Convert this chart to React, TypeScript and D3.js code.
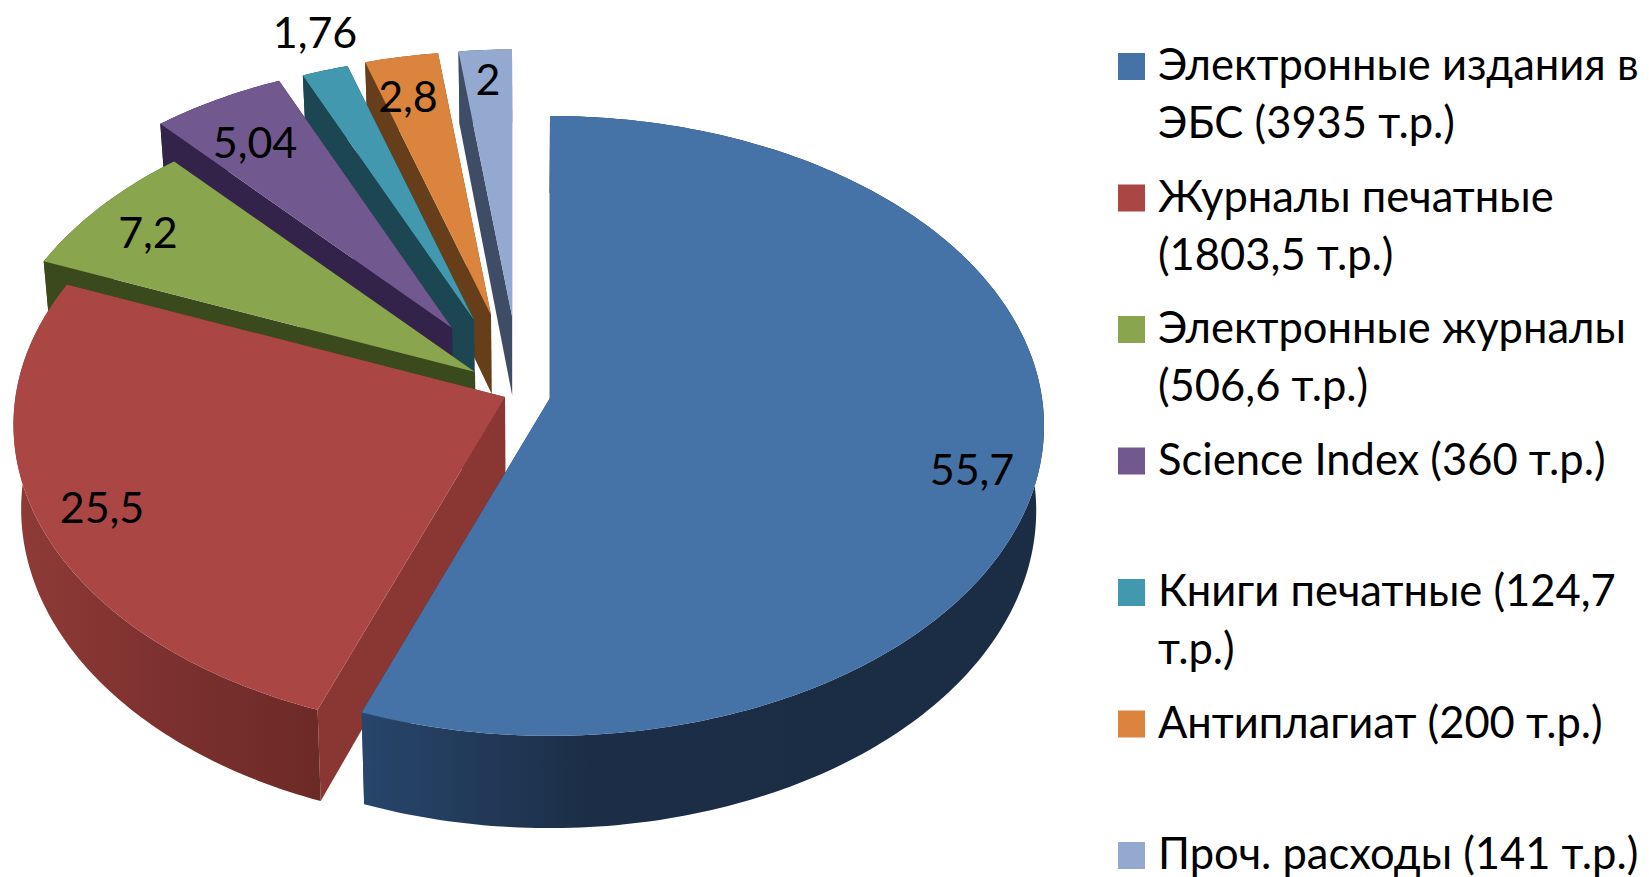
import * as d3 from "d3";

const shares = [55.7, 25.5, 7.2, 5.04, 1.76, 2.8, 2];
const shareLabels = ["55,7", "25,5", "7,2", "5,04", "1,76", "2,8", "2"];
const legendLines = [
  ["Электронные издания в", "ЭБС (3935 т.р.)"],
  ["Журналы печатные", "(1803,5 т.р.)"],
  ["Электронные журналы", "(506,6 т.р.)"],
  ["Science Index (360 т.р.)"],
  ["Книги печатные (124,7", "т.р.)"],
  ["Антиплагиат (200 т.р.)"],
  ["Проч. расходы (141 т.р.)"],
];
const topColors = ["#4572a7", "#aa4643", "#89a54e", "#71588f", "#4198af", "#db843d", "#93a9cf"];
const cutColors = ["#26446a", "#8a3733", "#3a4a1c", "#33234a", "#1b4652", "#663f1a", "#3f4c66"];
const rimColors = [
  ["#27466b", "#1c2e47", "#1b2d45", "#1b2d45"],
  ["#8f3b37", "#7c312e", "#6c2a27"],
  ["#3a4a1c", "#3a4a1c"],
  ["#33234a", "#33234a"],
  ["#1b4652", "#1b4652"],
  ["#663f1a", "#663f1a"],
  ["#3f4c66", "#3f4c66"],
];

// layout of the exploded slices, in screen pixels; slices pushed back shrink with perspective
const apexes = [
  [550, 398],
  [505, 397],
  [475, 372],
  [452, 328],
  [474, 320],
  [491, 315],
  [512, 316],
];
const sliceScales = [1, 0.995, 0.98, 0.95, 0.94, 0.935, 0.945];
const labelSpots = [
  [972, 468],
  [102, 506],
  [148, 231],
  [255, 141],
  [315, 31],
  [408, 95],
  [488, 78],
];
const drawOrder = [6, 5, 4, 3, 2, 1, 0];

const width = 1649;
const height = 877;
const radiusX = 492;
const radiusY = 307.4;
const persp = 0.09;
const depth = 84;
const vanishX = 525;
const shrink = 0.985;
const font = "Lato, 'Open Sans', sans-serif";

const pie = d3.pie<number>().sort(null).value((d) => d).startAngle(0).endAngle(2 * Math.PI);
const arcs = pie(shares);
const line = d3.line();

const topPoint = (i: number, angle: number, r: number): [number, number] => {
  const u = r * Math.sin(angle);
  const v = r * Math.cos(angle);
  const w = 1 + persp * v;
  const s = sliceScales[i];
  return [apexes[i][0] + (s * radiusX * u) / w, apexes[i][1] - (s * radiusY * v) / w];
};

const bottomPoint = (i: number, angle: number, r: number): [number, number] => {
  const [x, y] = topPoint(i, angle, r);
  const w = 1 + persp * r * Math.cos(angle);
  return [vanishX + (x - vanishX) * shrink, y + (sliceScales[i] * depth) / w];
};

const arcAngles = (a: d3.PieArcDatum<number>) => {
  const n = Math.max(8, Math.ceil((a.endAngle - a.startAngle) * 60));
  return d3.range(n + 1).map((j) => a.startAngle + ((a.endAngle - a.startAngle) * j) / n);
};

function Slice({ i }: { i: number }) {
  const a = arcs[i];
  const angles = arcAngles(a);
  const rimTop = angles.map((t) => topPoint(i, t, 1));
  const rimBottom = angles.map((t) => bottomPoint(i, t, 1));
  const apex = topPoint(i, 0, 0);
  const apexBottom = bottomPoint(i, 0, 0);
  const cutWall = (t: number) =>
    line([apex, topPoint(i, t, 1), bottomPoint(i, t, 1), apexBottom]) + "Z";
  return (
    <g>
      <path d={cutWall(a.endAngle)} fill={cutColors[i]} />
      <path d={cutWall(a.startAngle)} fill={cutColors[i]} />
      <path d={line([...rimTop, ...rimBottom.slice().reverse()]) + "Z"} fill={`url(#rim${i})`} />
      <path d={line([apex, ...rimTop]) + "Z"} fill={topColors[i]} />
    </g>
  );
}

export default function App() {
  return (
    <svg
      width={width}
      height={height}
      viewBox={`0 0 ${width} ${height}`}
      style={{ position: "absolute", left: 0, top: 0, display: "block", background: "#fff" }}
    >
      <defs>
        {rimColors.map((stops, i) => (
          <linearGradient key={i} id={`rim${i}`} x1="0" x2="1" y1="0" y2="0">
            {stops.map((c, j) => (
              <stop key={j} offset={j / (stops.length - 1)} stopColor={c} />
            ))}
          </linearGradient>
        ))}
      </defs>
      {drawOrder.map((i) => (
        <Slice key={i} i={i} />
      ))}
      {shareLabels.map((t, i) => (
        <text
          key={t}
          x={labelSpots[i][0]}
          y={labelSpots[i][1]}
          textAnchor="middle"
          dominantBaseline="central"
          fontFamily={font}
          fontSize={43}
          fill="#000"
        >
          {t}
        </text>
      ))}
      {legendLines.map((lines, i) => (
        <g key={i} transform={`translate(1118,${53 + i * 131.5})`}>
          <rect width={27} height={27} fill={topColors[i]} />
          {lines.map((t, j) => (
            <text key={j} x={40} y={27 + j * 58} fontFamily={font} fontSize={43.5} fill="#000">
              {t}
            </text>
          ))}
        </g>
      ))}
    </svg>
  );
}
